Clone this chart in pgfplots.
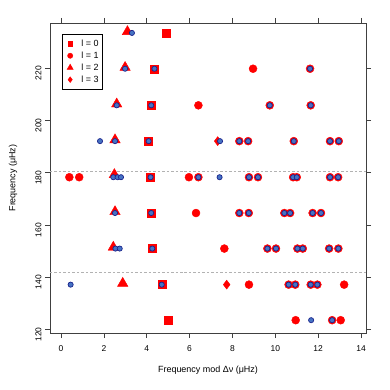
\documentclass[border=0pt]{standalone}
\usepackage{fontspec}
\setmainfont{Liberation Sans}
\usepackage{pgfplots}
\pgfplotsset{compat=1.18}
\definecolor{rred}{RGB}{255,0,0}
\definecolor{bfill}{RGB}{70,115,195}
\definecolor{bdraw}{RGB}{25,35,140}
\begin{document}
\begin{tikzpicture}
\path[use as bounding box] (0,0) rectangle (390bp,390bp);
\begin{axis}[
  at={(50bp,57bp)}, anchor=south west,
  width=316bp, height=310bp, scale only axis,
  xmin=-0.513, xmax=14.23, ymin=118.7, ymax=237.3,
  xtick={0,2,...,14}, ytick={120,140,...,220},
  tick align=outside, major tick length=5bp,
  axis line style={black!75, line width=0.6pt},
  every tick/.style={black!75, line width=0.6pt},
  font=\fontsize{9}{11}\selectfont,
  /pgf/number format/assume math mode=true,
  xticklabel style={font=\fontsize{8.5}{10}\selectfont, yshift=-4bp},
  yticklabel style={font=\fontsize{8.5}{10}\selectfont, rotate=90, anchor=south, xshift=-5bp},
  xlabel={Frequency mod Δν (μHz)},
  ylabel={Frequency (μHz)},
  xlabel style={at={(axis description cs:0.5,-0.119)}, anchor=center},
  ylabel style={at={(axis description cs:-0.117,0.5)}, anchor=center},
  clip=false,
  legend style={at={(0.037,0.965)}, anchor=north west, draw=black, line width=0.5pt,
    inner xsep=3pt, inner ysep=4.5pt, row sep=1.5pt, column sep=0pt, font=\fontsize{9}{11}\selectfont,
    nodes={inner sep=1pt, text height=7pt, text depth=1.5pt}},
  legend cell align=left,
  legend image code/.code={\path (0bp,0bp) (15bp,0bp); \draw[#1] plot coordinates {(5bp,0bp)};},
]
\addplot[black!30, dashed, dash pattern=on 2.5pt off 2pt, forget plot] coordinates {(-0.513,180.7) (14.23,180.7)};
\addplot[black!30, dashed, dash pattern=on 2.5pt off 2pt, forget plot] coordinates {(-0.513,141.8) (14.23,141.8)};
% l = 0
\addplot[only marks, mark=square*, mark size=4bp, rred, forget plot] coordinates {
(4.93,233.5) (4.36,219.8) (4.21,205.8) (4.09,192.1) (4.18,178.3) (4.21,164.6) (4.26,151.0) (4.70,137.2) (4.99,123.6)};
% l = 1
\addplot[only marks, mark=*, mark size=4bp, rred, forget plot] coordinates {
(8.96,219.8) (11.62,219.8)
(6.41,205.8) (9.74,205.8) (11.65,205.8)
(8.32,192.1) (8.73,192.1) (10.86,192.1) (12.55,192.1) (12.96,192.1)
(0.39,178.3) (0.85,178.3) (5.97,178.3) (6.41,178.3) (8.77,178.3) (9.19,178.3) (10.83,178.3) (11.00,178.3) (12.55,178.3) (12.93,178.3)
(6.30,164.6) (8.32,164.6) (8.76,164.6) (10.42,164.6) (10.69,164.6) (11.74,164.6) (12.13,164.6)
(7.62,151.0) (9.63,151.0) (10.03,151.0) (11.03,151.0) (11.28,151.0) (12.51,151.0) (12.94,151.0)
(8.77,137.2) (10.62,137.2) (10.93,137.2) (11.65,137.2) (11.96,137.2) (13.21,137.2)
(10.95,123.6) (12.65,123.6) (13.05,123.6)};
% l = 2
\addplot[only marks, mark=triangle*, mark size=6bp, rred, forget plot] coordinates {
(3.10,234.0) (2.99,220.3) (2.60,206.3) (2.52,192.6) (2.49,179.3) (2.52,165.1) (2.44,151.5) (2.88,137.7)};
% l = 3
\addplot[only marks, mark=diamond*, mark size=4.5bp, rred, forget plot] coordinates {
(7.31,192.1) (7.73,137.2)};
% observed
\addplot[only marks, mark=*, mark size=2.6bp, fill=bfill, draw=bdraw, line width=0.7pt, forget plot] coordinates {
(3.31,233.5)
(2.99,219.8) (4.36,219.8) (11.62,219.8)
(2.60,205.8) (4.21,205.8) (9.74,205.8) (11.65,205.8)
(1.82,192.1) (2.52,192.1) (4.09,192.1) (7.42,192.1) (8.32,192.1) (8.73,192.1) (10.86,192.1) (12.55,192.1) (12.96,192.1)
(2.44,178.3) (2.64,178.3) (2.80,178.3) (4.18,178.3) (6.41,178.3) (7.40,178.3) (8.77,178.3) (9.19,178.3) (10.83,178.3) (11.00,178.3) (12.55,178.3) (12.93,178.3)
(2.52,164.6) (4.21,164.6) (8.32,164.6) (8.76,164.6) (10.42,164.6) (10.69,164.6) (11.74,164.6) (12.13,164.6)
(2.54,151.0) (2.74,151.0) (4.26,151.0) (9.63,151.0) (10.03,151.0) (11.03,151.0) (11.28,151.0) (12.51,151.0) (12.94,151.0)
(0.45,137.2) (4.70,137.2) (10.62,137.2) (10.93,137.2) (11.65,137.2) (11.96,137.2)
(11.67,123.6) (12.65,123.6)};
\addlegendimage{only marks, mark=square*, mark size=2.4bp, rred}
\addlegendentry{l = 0}
\addlegendimage{only marks, mark=*, mark size=2.6bp, rred}
\addlegendentry{l = 1}
\addlegendimage{only marks, mark=triangle*, mark size=3.5bp, rred}
\addlegendentry{l = 2}
\addlegendimage{only marks, mark=diamond*, mark size=2.8bp, rred}
\addlegendentry{l = 3}
\end{axis}
\end{tikzpicture}
\end{document}
